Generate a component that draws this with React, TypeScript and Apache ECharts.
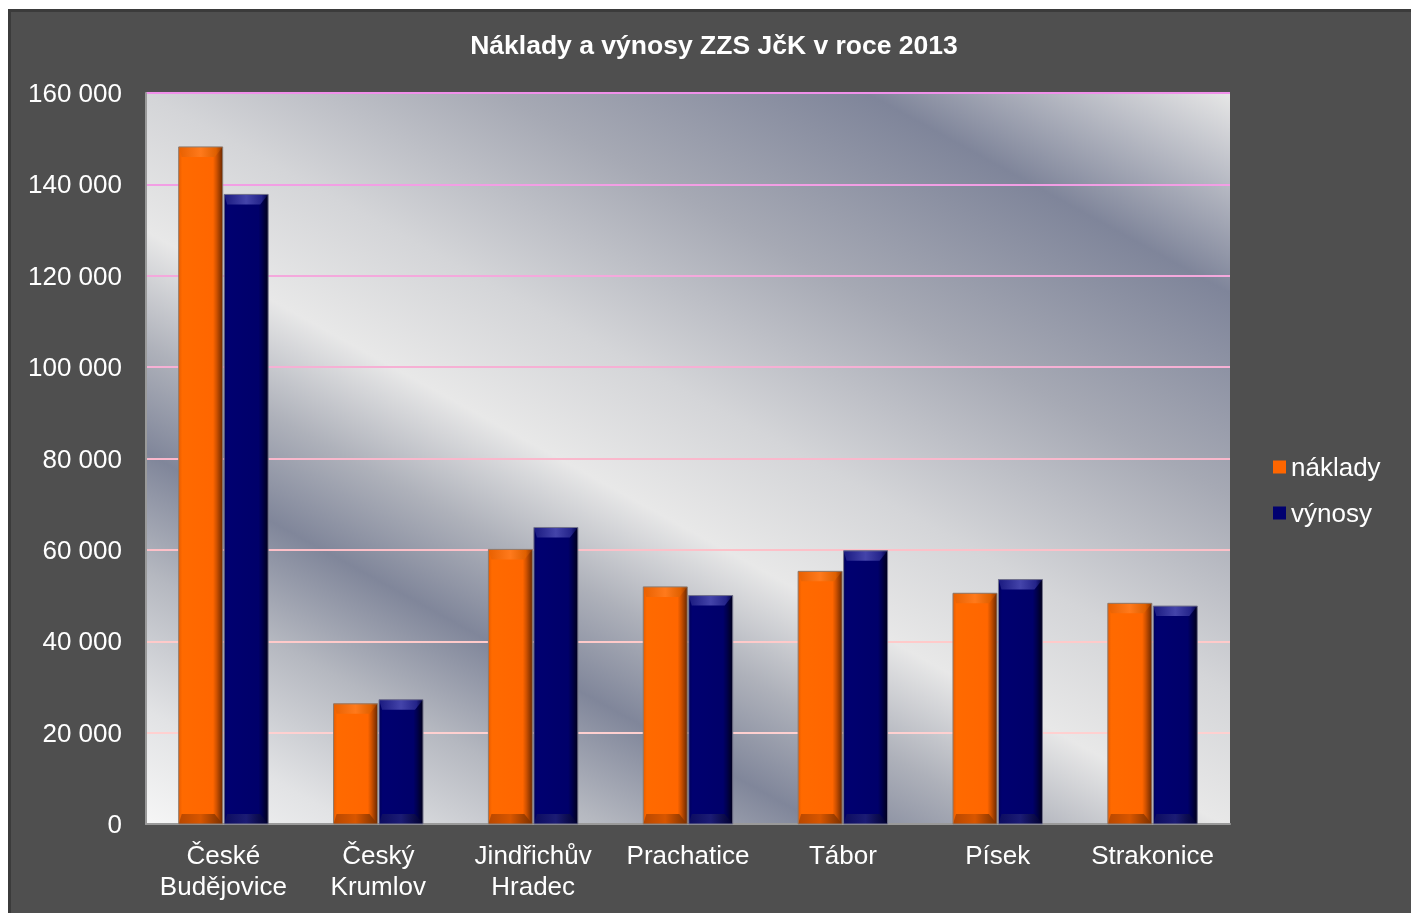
import React, { useEffect, useRef } from "react";
import * as echarts from "echarts";

const categories = [
  "České\nBudějovice",
  "Český\nKrumlov",
  "Jindřichův\nHradec",
  "Prachatice",
  "Tábor",
  "Písek",
  "Strakonice",
];
const naklady = [148200, 26300, 60100, 51900, 55300, 50500, 48300];
const vynosy = [137800, 27200, 64900, 50000, 59800, 53500, 47700];
const seriesNames = ["náklady", "výnosy"];
const titleText = "Náklady a výnosy ZZS JčK v roce 2013";
const gridLineColors = [
  "#ffd4d4", "#ffd0d0", "#ffcaca", "#fdc0c8", "#fab8cc", "#f6b0d4", "#f4a8dc", "#f29ee4", "#f090ea",
];

const FONT = "'Liberation Sans', Arial, sans-serif";

function fmt(v: number) {
  return String(v).replace(/\B(?=(\d{3})+(?!\d))/g, " ");
}

type Pal = {
  body: any;
  top: any;
  bottom: any;
  border: string;
};

function hGrad(stops: [number, string][]) {
  return new echarts.graphic.LinearGradient(
    0, 0, 1, 0,
    stops.map(([offset, color]) => ({ offset, color }))
  );
}

function makeRender(side: number, pal: Pal) {
  return (params: any, api: any) => {
    const idx = api.value(0);
    const v = api.value(1);
    const p0 = api.coord([idx, 0]);
    const p1 = api.coord([idx, v]);
    const band = api.size([1, 0])[0];
    const w = band * 0.284;
    const gap = 1.5;
    const x0 = side === 0 ? p0[0] - gap / 2 - w : p0[0] + gap / 2;
    const x1 = x0 + w;
    const yT = p1[1];
    const yB = p0[1];
    const b = 10;
    const r = 8;
    const l = 3;
    return {
      type: "group",
      children: [
        {
          type: "rect",
          shape: { x: x0, y: yT, width: w, height: yB - yT },
          style: { fill: pal.body },
        },
        {
          type: "polygon",
          shape: { points: [[x0, yT], [x1, yT], [x1 - r, yT + b], [x0 + l, yT + b]] },
          style: { fill: pal.top },
        },
        {
          type: "polygon",
          shape: { points: [[x0 + l, yB - b], [x1 - r, yB - b], [x1, yB], [x0, yB]] },
          style: { fill: pal.bottom },
        },
        {
          type: "rect",
          shape: { x: x0, y: yT, width: w, height: yB - yT },
          style: { fill: "none", stroke: pal.border, lineWidth: 1 },
        },
      ],
    };
  };
}

export default function App() {
  const ref = useRef<HTMLDivElement>(null);
  useEffect(() => {
    if (!ref.current) return;
    const chart = echarts.init(ref.current, null, { renderer: "svg" });
    const bg = new echarts.graphic.LinearGradient(
      146, 824, 706, -194,
      [
        { offset: 0, color: "#f6f6f6" },
        { offset: 0.086, color: "#e2e3e5" },
        { offset: 0.19, color: "#b5b8c0" },
        { offset: 0.28, color: "#80869a" },
        { offset: 0.36, color: "#aeb1ba" },
        { offset: 0.447, color: "#e8e8e8" },
        { offset: 0.55, color: "#d4d5d8" },
        { offset: 0.697, color: "#a6a9b4" },
        { offset: 0.85, color: "#7f859a" },
        { offset: 1, color: "#e6e6e6" },
      ],
      true
    );
    const orangePal: Pal = {
      body: hGrad([
        [0, "#e85c00"],
        [0.08, "#ff6a00"],
        [0.78, "#ff6600"],
        [0.86, "#d05200"],
        [1, "#6a2800"],
      ]),
      top: hGrad([
        [0, "#e86000"],
        [0.5, "#ff7a1c"],
        [0.85, "#e06000"],
        [1, "#903800"],
      ]),
      bottom: hGrad([
        [0, "#b84800"],
        [0.5, "#d85600"],
        [1, "#7a3000"],
      ]),
      border: "#8c7a6e",
    };
    const navyPal: Pal = {
      body: hGrad([
        [0, "#00005a"],
        [0.08, "#000070"],
        [0.78, "#00006a"],
        [0.86, "#000050"],
        [1, "#00001a"],
      ]),
      top: hGrad([
        [0, "#1a1a80"],
        [0.5, "#4444aa"],
        [0.85, "#24248a"],
        [1, "#000040"],
      ]),
      bottom: hGrad([
        [0, "#0c0c60"],
        [0.5, "#1c1c74"],
        [1, "#000030"],
      ]),
      border: "#74748c",
    };
    chart.setOption({
      animation: false,
      textStyle: { fontFamily: FONT },
      graphic: [
        {
          type: "rect",
          shape: { x: 9.5, y: 10.5, width: 1412, height: 912 },
          style: { fill: "#4f4f4f", stroke: "#3b3b3b", lineWidth: 3 },
          z: -10,
          silent: true,
        },
      ],
      title: {
        text: titleText,
        left: 709,
        textAlign: "center",
        top: 26,
        textStyle: { color: "#ffffff", fontSize: 26.5, fontWeight: "bold", fontFamily: FONT },
      },
      legend: {
        orient: "vertical",
        left: 1273,
        top: 454,
        padding: 0,
        itemWidth: 13,
        itemHeight: 13,
        itemGap: 20,
        icon: "rect",
        data: seriesNames,
        textStyle: { color: "#ffffff", fontSize: 26, fontFamily: FONT },
      },
      grid: {
        left: 146,
        top: 93,
        width: 1084,
        height: 731,
        show: true,
        backgroundColor: bg,
        borderWidth: 0,
      },
      xAxis: {
        type: "category",
        data: categories,
        axisLine: { show: true, lineStyle: { color: "#9a9a9a", width: 2 } },
        axisTick: { show: false },
        axisLabel: {
          color: "#ffffff",
          fontSize: 26,
          fontFamily: FONT,
          margin: 15,
          lineHeight: 31,
          interval: 0,
        },
      },
      yAxis: {
        type: "value",
        min: 0,
        max: 160000,
        interval: 20000,
        axisLine: { show: true, lineStyle: { color: "#9a9a9a", width: 2 } },
        axisTick: { show: false },
        axisLabel: {
          color: "#ffffff",
          fontSize: 26,
          fontFamily: FONT,
          margin: 24,
          formatter: (v: number) => fmt(v),
        },
        splitLine: { show: true, lineStyle: { color: gridLineColors, width: 2 } },
      },
      series: [
        {
          name: seriesNames[0],
          type: "custom",
          renderItem: makeRender(0, orangePal),
          data: naklady.map((v, i) => [i, v]),
          encode: { x: 0, y: 1 },
          itemStyle: { color: "#ff6600" },
          z: 5,
        },
        {
          name: seriesNames[1],
          type: "custom",
          renderItem: makeRender(1, navyPal),
          data: vynosy.map((v, i) => [i, v]),
          encode: { x: 0, y: 1 },
          itemStyle: { color: "#000070" },
          z: 5,
        },
      ],
    });
    return () => chart.dispose();
  }, []);
  return (
    <div
      ref={ref}
      style={{ position: "fixed", left: 0, top: 0, width: 1411, height: 913 }}
    />
  );
}
